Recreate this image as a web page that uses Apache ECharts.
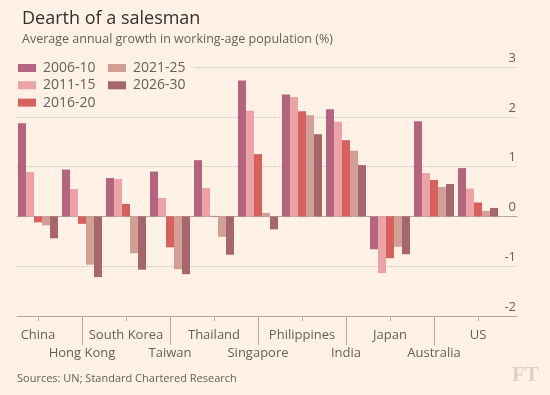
<!DOCTYPE html>
<html>
<head>
<meta charset="utf-8">
<script src="https://cdn.jsdelivr.net/npm/echarts@6/dist/echarts.min.js"></script>
<style>
html,body{margin:0;padding:0;background:#fff1e5;}
#chart{width:550px;height:395px;}
</style>
</head>
<body>
<div id="chart"></div>
<script>
var categories = ['China','Hong Kong','South Korea','Taiwan','Thailand','Singapore','Philippines','India','Japan','Australia','US'];
var seriesNames = ['2006-10','2011-15','2016-20','2021-25','2026-30'];
var s2006_10 = [1.87, 0.94, 0.77, 0.90, 1.13, 2.73, 2.45, 2.15, -0.66, 1.91, 0.97];
var s2011_15 = [0.89, 0.55, 0.75, 0.37, 0.57, 2.12, 2.40, 1.90, -1.14, 0.87, 0.56];
var s2016_20 = [-0.12, -0.15, 0.25, -0.62, 0.01, 1.25, 2.11, 1.53, -0.84, 0.73, 0.28];
var s2021_25 = [-0.18, -0.97, -0.74, -1.06, -0.41, 0.07, 2.03, 1.32, -0.61, 0.59, 0.11];
var s2026_30 = [-0.44, -1.22, -1.07, -1.16, -0.77, -0.26, 1.65, 1.03, -0.76, 0.65, 0.17];
var yMin = -2, yMax = 3, yStep = 1;

var colors = ['#b5647f','#eba3a5','#d8615f','#d29f94','#a5676b'];
var font = 'Open Sans';
var textGrey = '#66605c';
var axisGrey = '#b3a89f';

var values = [s2006_10, s2011_15, s2016_20, s2021_25, s2026_30];
var series = seriesNames.map(function (n, i) {
  return {
    name: n, type: 'bar', xAxisIndex: 3, yAxisIndex: 1,
    data: values[i], barGap: 0, barCategoryGap: '9%',
    itemStyle: {color: colors[i]}, z: 3
  };
});

var chart = echarts.init(document.getElementById('chart'), null, {renderer: 'canvas'});
chart.setOption({
  backgroundColor: '#fff1e5',
  animation: false,
  title: [
    {text: 'Dearth of a salesman', left: 17, top: 5,
     textStyle: {fontFamily: font, fontSize: 18, fontWeight: 'normal', color: '#33302e'}},
    {text: 'Average annual growth in working-age population (%)', left: 17, top: 28,
     textStyle: {fontFamily: font, fontSize: 12.5, fontWeight: 'normal', color: textGrey}}
  ],
  legend: [
    {data: seriesNames.slice(0, 3), orient: 'vertical', left: 18, top: 61,
     itemWidth: 18, itemHeight: 8, itemGap: 3.3, icon: 'rect',
     backgroundColor: '#fff1e5', padding: [0, 12, 0, 0],
     textStyle: {fontFamily: font, fontSize: 14, lineHeight: 14, color: textGrey, padding: [0, 0, 0, 2]}},
    {data: seriesNames.slice(3), orient: 'vertical', left: 108, top: 61,
     itemWidth: 18, itemHeight: 8, itemGap: 3.3, icon: 'rect',
     backgroundColor: '#fff1e5', padding: [0, 8, 0, 0],
     textStyle: {fontFamily: font, fontSize: 14, lineHeight: 14, color: textGrey, padding: [0, 0, 0, 2]}}
  ],
  grid: [
    {left: 17, right: 33, top: 67, bottom: 79},
    {left: 16, right: 50, top: 67, bottom: 79}
  ],
  yAxis: [
    {gridIndex: 0, type: 'value', min: yMin, max: yMax, interval: yStep, position: 'right',
     axisLine: {show: false}, axisTick: {show: false},
     splitLine: {show: true, lineStyle: {color: '#c9beb4', type: 'dotted', width: 1}},
     axisLabel: {inside: true, margin: 1, verticalAlign: 'bottom', lineHeight: 14, padding: [0, 0, 2, 0],
                 fontFamily: font, fontSize: 13, color: textGrey}},
    {gridIndex: 1, type: 'value', min: yMin, max: yMax, interval: yStep, show: false}
  ],
  xAxis: [
    {gridIndex: 0, type: 'value', min: 0, max: 1, position: 'bottom',
     axisLine: {show: true, onZero: false, lineStyle: {color: axisGrey, width: 1}},
     axisTick: {show: false}, axisLabel: {show: false}, splitLine: {show: false}},
    {gridIndex: 0, type: 'value', min: 0, max: 1,
     axisLine: {show: true, onZero: true, lineStyle: {color: axisGrey, width: 1}},
     axisTick: {show: false}, axisLabel: {show: false}, splitLine: {show: false}},
    {gridIndex: 1, type: 'category', data: categories, position: 'bottom', offset: 0,
     boundaryGap: true,
     axisLine: {show: false, onZero: false},
     axisTick: {show: true, alignWithLabel: true, length: 29,
                interval: function (i) { return i % 2 === 1; },
                lineStyle: {color: axisGrey}},
     axisLabel: {interval: function (i) { return i % 2 === 1; }, margin: 29, lineHeight: 16,
                 fontFamily: font, fontSize: 13, color: textGrey}},
    {gridIndex: 1, type: 'category', data: categories, position: 'bottom', offset: 0,
     boundaryGap: true,
     axisLine: {show: false, onZero: false},
     axisTick: {show: true, alignWithLabel: true, length: 5,
                interval: function (i) { return i % 2 === 0; },
                lineStyle: {color: axisGrey}},
     axisLabel: {interval: function (i) { return i % 2 === 0; }, margin: 11, lineHeight: 16,
                 fontFamily: font, fontSize: 13, color: textGrey}}
  ],
  series: series,
  graphic: [
    {type: 'text', left: 17, top: 373,
     style: {text: 'Sources: UN; Standard Chartered Research', fontFamily: font, fontSize: 11, fill: textGrey}},
    {type: 'text', left: 512, top: 365,
     style: {text: 'FT', fontFamily: 'Liberation Serif', fontWeight: 'bold', fontSize: 21, fill: '#ddd0c5'}}
  ]
});
</script>
</body>
</html>
